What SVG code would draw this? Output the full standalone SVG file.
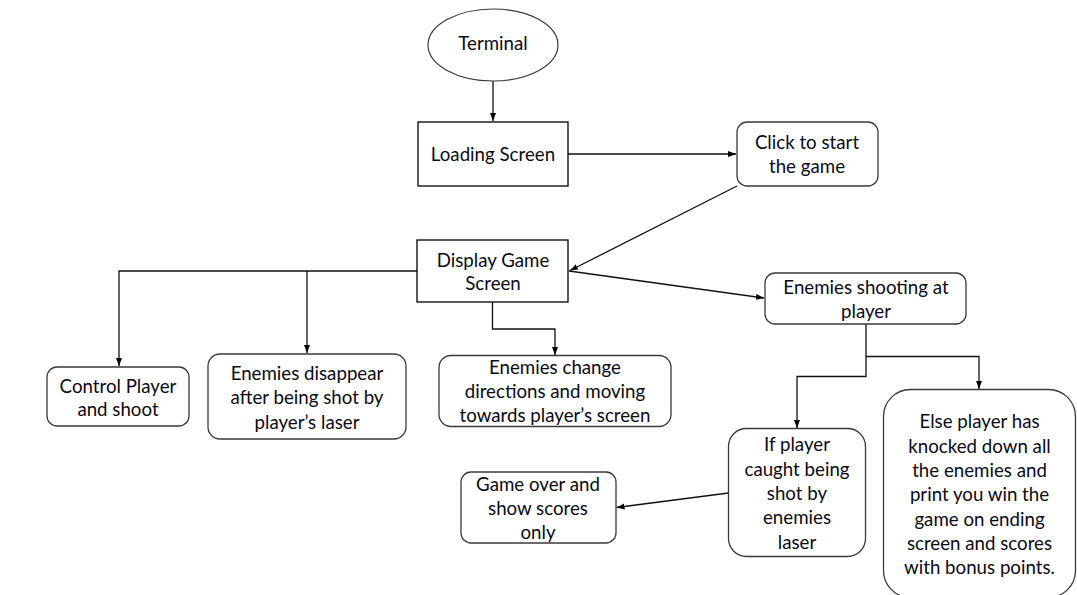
<svg xmlns="http://www.w3.org/2000/svg" width="1077" height="595" viewBox="0 0 1077 595">
<style>
.sq{fill:#fff;stroke:#000;stroke-width:1.3}
.rd{fill:#fff;stroke:#3a3a3a;stroke-width:1.3}
.el{fill:#fff;stroke:#3a3a3a;stroke-width:1.2}
.t{font-family:Lato,"Liberation Sans",sans-serif;font-size:18.7px;fill:#0a0a14;text-anchor:middle}
.c{fill:none;stroke:#111;stroke-width:1.3;marker-end:url(#ah)}
</style>
<defs>
<marker id="ah" markerUnits="userSpaceOnUse" markerWidth="9" markerHeight="7" refX="8" refY="3.5" orient="auto">
<path d="M0,0.5 L8,3.5 L0,6.5 z" fill="#000"/>
</marker>
</defs>
<rect width="1077" height="595" fill="#fff"/>
<g id="connectors">
<path class="c" d="M493,81 L493,121"/>
<path class="c" d="M568,154 L736,154"/>
<path class="c" d="M737,186 L570,270.5"/>
<path class="c" d="M569,271 L764,298"/>
<path class="c" d="M417,271 L119,271 L119,366"/>
<path class="c" d="M307,271 L307,353"/>
<path class="c" d="M492.5,302 L492.5,329 L555,329 L555,355"/>
<path class="c" d="M866,324 L866,376.5 L797,376.5 L797,428"/>
<path class="c" d="M866,356.5 L979,356.5 L979,389"/>
<path class="c" d="M728.5,493 L616.5,507.5"/>
</g>
<g id="terminal">
<ellipse class="el" cx="493" cy="45" rx="65" ry="36"/>
<text class="t" x="493" y="50">Terminal</text>
</g>
<g id="loading">
<rect class="sq" x="418" y="122" width="150" height="64"/>
<text class="t" x="493" y="161">Loading Screen</text>
</g>
<g id="click">
<rect class="rd" x="737" y="122" width="141" height="64" rx="10"/>
<text class="t" x="807" y="149">Click to start</text>
<text class="t" x="807" y="173">the game</text>
</g>
<g id="display">
<rect class="sq" x="417" y="240" width="151" height="62"/>
<text class="t" x="493" y="266.5">Display Game</text>
<text class="t" x="493" y="289.5">Screen</text>
</g>
<g id="control">
<rect class="rd" x="47" y="367" width="142" height="59" rx="10"/>
<text class="t" x="118" y="392.5">Control Player</text>
<text class="t" x="118" y="416">and shoot</text>
</g>
<g id="disappear">
<rect class="rd" x="208" y="354" width="198" height="85" rx="12"/>
<text class="t" x="307" y="379.5">Enemies disappear</text>
<text class="t" x="307" y="404">after being shot by</text>
<text class="t" x="307" y="428.5">player’s laser</text>
</g>
<g id="change">
<rect class="rd" x="439" y="355.5" width="232" height="71" rx="12"/>
<text class="t" x="555" y="374">Enemies change</text>
<text class="t" x="555" y="398">directions and moving</text>
<text class="t" x="555" y="422">towards player’s screen</text>
</g>
<g id="shooting">
<rect class="rd" x="765" y="273" width="201" height="51" rx="10"/>
<text class="t" x="866" y="294">Enemies shooting at</text>
<text class="t" x="866" y="318">player</text>
</g>
<g id="ifplayer">
<rect class="rd" x="728.5" y="428.5" width="137" height="128" rx="18"/>
<text class="t" x="797" y="451">If player</text>
<text class="t" x="797" y="475.5">caught being</text>
<text class="t" x="797" y="500">shot by</text>
<text class="t" x="797" y="524">enemies</text>
<text class="t" x="797" y="548.5">laser</text>
</g>
<g id="else">
<rect class="rd" x="883.5" y="389.5" width="192" height="208" rx="27"/>
<text class="t" x="979.5" y="428">Else player has</text>
<text class="t" x="979.5" y="452.5">knocked down all</text>
<text class="t" x="979.5" y="476.5">the enemies and</text>
<text class="t" x="979.5" y="501">print you win the</text>
<text class="t" x="979.5" y="525.5">game on ending</text>
<text class="t" x="979.5" y="550">screen and scores</text>
<text class="t" x="979.5" y="574">with bonus points.</text>
</g>
<g id="gameover">
<rect class="rd" x="461" y="472" width="155" height="71" rx="10"/>
<text class="t" x="538" y="491">Game over and</text>
<text class="t" x="538" y="515">show scores</text>
<text class="t" x="538" y="539">only</text>
</g>
</svg>
